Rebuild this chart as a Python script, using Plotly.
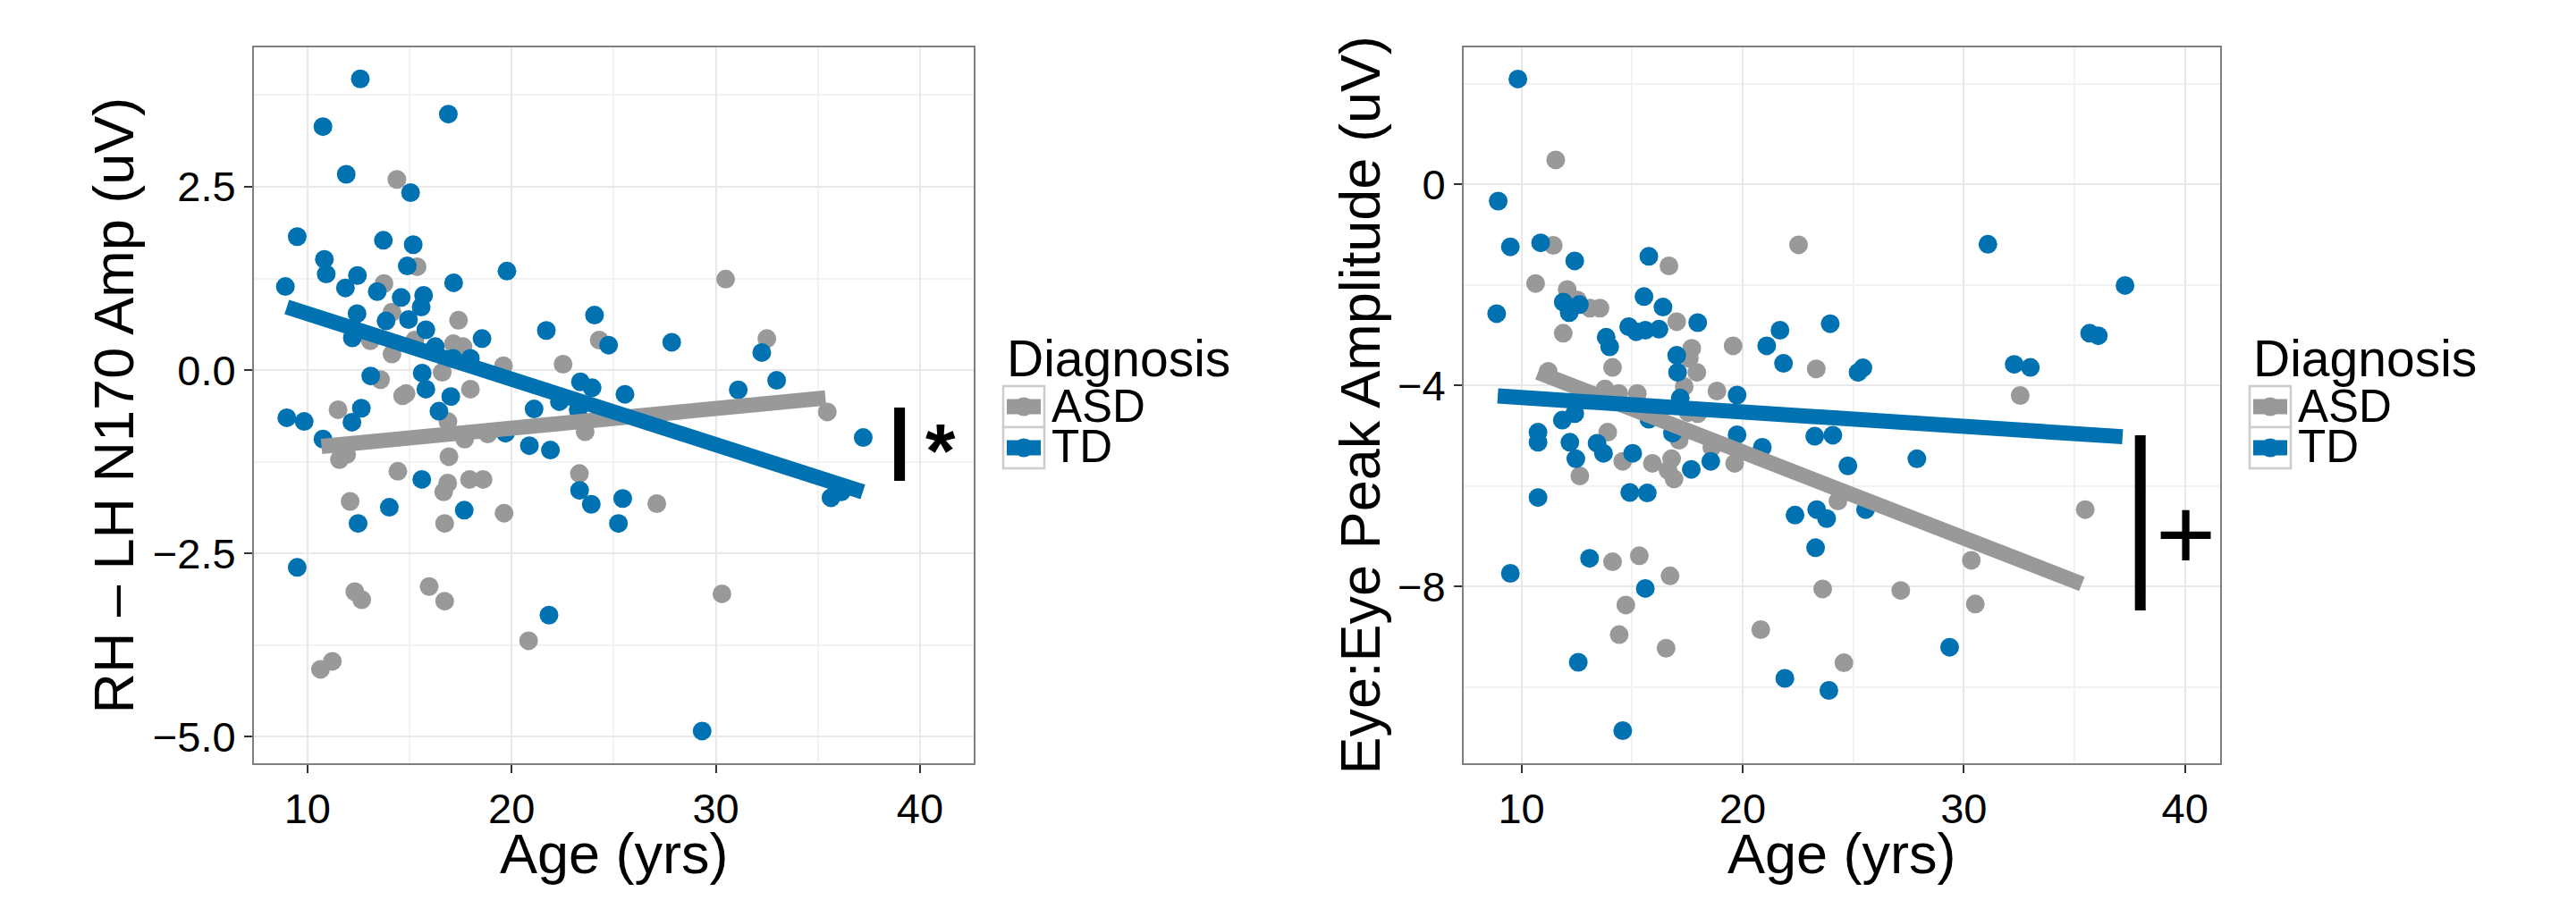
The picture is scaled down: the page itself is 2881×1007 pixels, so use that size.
import plotly.graph_objects as go

W, H = 2881, 1007
BLUE = "#0072B2"
GREY = "#999999"

# ---------------- Panel 1 : RH - LH N170 amplitude ----------------
p1_td_age = [12.59, 10.76, 16.90, 11.90, 15.05, 9.50, 13.72, 15.18, 10.83, 10.92,
             14.89, 12.45, 8.92, 11.86, 13.42, 17.16, 19.77, 14.59, 15.69, 15.57,
             12.43, 13.85, 14.95, 15.80, 12.20, 24.06, 18.55, 21.70, 16.26, 17.13,
             17.98, 24.75, 27.84, 32.25, 32.98, 31.10, 13.10, 15.62, 15.80, 17.02,
             16.44, 23.37, 23.94, 25.55, 22.34, 23.26, 21.10, 12.64, 8.99, 9.84,
             12.18, 10.76, 19.70, 20.87, 21.90, 37.22, 15.60, 23.33, 23.90, 25.44,
             35.64, 36.15, 14.01, 17.68, 12.48, 25.23, 9.50, 21.83, 29.33]
p1_td_val = [3.97, 3.32, 3.49, 2.67, 2.42, 1.82, 1.77, 1.71, 1.51, 1.31,
             1.42, 1.29, 1.14, 1.12, 1.07, 1.19, 1.35, 0.99, 1.02, 0.86,
             0.77, 0.67, 0.69, 0.55, 0.44, 0.75, 0.43, 0.54, 0.32, 0.16,
             0.16, 0.34, 0.38, 0.24, -0.14, -0.27, -0.08, -0.04, -0.26, -0.36,
             -0.56, -0.16, -0.24, -0.33, -0.43, -0.54, -0.53, -0.52, -0.65, -0.70,
             -0.71, -0.94, -0.86, -1.03, -1.09, -0.92, -1.49, -1.64, -1.83, -1.75,
             -1.74, -1.66, -1.87, -1.91, -2.09, -2.09, -2.69, -3.34, -4.92]
p1_asd_age = [14.38, 15.37, 13.75, 14.14, 17.40, 15.26, 13.08, 17.15, 17.62, 14.14,
              24.29, 32.50, 30.48, 19.60, 22.52, 16.60, 13.58, 17.98, 14.66, 14.83,
              11.50, 16.88, 23.60, 17.70, 18.83, 35.46, 11.92, 11.57, 16.93, 14.43,
              16.87, 16.67, 17.94, 18.60, 23.32, 12.09, 19.63, 27.11, 16.72, 12.32,
              12.66, 15.96, 16.72, 30.30, 20.83, 11.22, 10.64]
p1_asd_val = [2.60, 1.41, 1.18, 0.79, 0.68, 0.41, 0.40, 0.36, 0.32, 0.22,
              0.41, 0.43, 1.24, 0.06, 0.08, -0.03, -0.13, -0.26, -0.35, -0.32,
              -0.54, -0.70, -0.84, -0.94, -0.87, -0.57, -1.15, -1.22, -1.18, -1.38,
              -1.54, -1.66, -1.49, -1.49, -1.41, -1.79, -1.95, -1.82, -2.09, -3.02,
              -3.13, -2.95, -3.15, -3.05, -3.69, -3.97, -4.08]
# fitted lines (endpoints)
p1_td_fit_age = [8.99, 37.20]
p1_td_fit_val = [0.86, -1.66]
p1_asd_fit_age = [10.69, 35.37]
p1_asd_fit_val = [-1.04, -0.38]
# significance marker
p1_sig_x = [39.0, 39.0]
p1_sig_y = [-0.51, -1.51]
p1_sig_label = "*"
p1_sig_label_xy = [41.0, -1.09]

# ---------------- Panel 2 : Eye:Eye peak amplitude ----------------
p2_td_age = [9.84, 8.95, 9.50, 10.87, 12.41, 8.88, 15.76, 11.89, 12.16, 12.62,
             15.54, 16.40, 13.83, 13.99, 14.85, 15.19, 15.60, 16.22, 17.97, 17.02,
             17.06, 17.18, 21.69, 21.09, 21.85, 23.96, 25.44, 25.22, 31.09, 32.28,
             33.01, 35.69, 36.08, 37.29, 19.75, 11.85, 12.41, 10.75, 10.75, 12.19,
             13.42, 13.71, 12.46, 15.03, 15.76, 16.83, 17.68, 18.56, 19.75, 20.89,
             23.26, 24.08, 24.76, 27.88, 10.75, 14.90, 15.69, 22.37, 23.35, 23.80,
             25.56, 23.30, 9.50, 13.08, 15.60, 12.57, 21.91, 23.90, 29.36, 14.58]
p2_td_val = [2.10, -0.33, -1.24, -1.16, -1.52, -2.57, -1.43, -2.34, -2.55, -2.39,
             -2.23, -2.44, -3.04, -3.23, -2.83, -2.93, -2.90, -2.88, -2.75, -3.40,
             -3.74, -4.25, -2.90, -3.21, -3.56, -2.77, -3.65, -3.74, -1.19, -3.58,
             -3.64, -2.96, -3.01, -2.01, -4.19, -4.69, -4.56, -4.93, -5.13, -5.13,
             -5.15, -5.35, -5.46, -5.35, -4.67, -4.95, -5.67, -5.51, -4.98, -5.23,
             -5.01, -4.99, -5.60, -5.46, -6.23, -6.13, -6.14, -6.58, -6.47, -6.65,
             -6.47, -7.23, -7.74, -7.44, -8.04, -9.51, -9.83, -10.07, -9.21, -10.87]
p2_asd_age = [11.55, 11.44, 10.64, 12.07, 12.53, 13.10, 13.55, 11.89, 16.67, 22.53,
              17.02, 17.70, 17.59, 19.57, 14.12, 17.93, 23.33, 17.36, 18.84, 11.21,
              13.78, 14.40, 15.24, 17.54, 17.97, 13.90, 17.13, 18.61, 19.64, 14.58,
              15.92, 16.79, 16.63, 16.90, 12.64, 32.55, 24.31, 35.49, 30.34, 14.12,
              15.33, 16.72, 14.72, 23.62, 27.15, 30.52, 14.42, 20.82, 16.54, 24.58]
p2_asd_val = [0.49, -1.21, -1.97, -2.09, -2.30, -2.46, -2.46, -2.96, -1.62, -1.20,
              -2.73, -3.26, -3.46, -3.21, -3.64, -3.74, -3.67, -4.02, -4.11, -3.72,
              -4.07, -4.16, -4.16, -4.54, -4.56, -4.93, -5.09, -5.23, -5.55, -5.51,
              -5.55, -5.46, -5.69, -5.86, -5.80, -4.20, -6.30, -6.47, -7.48, -7.51,
              -7.39, -7.79, -8.37, -8.05, -8.08, -8.35, -8.96, -8.86, -9.23, -9.52]
p2_td_fit_age = [8.93, 37.18]
p2_td_fit_val = [-4.21, -5.02]
p2_asd_fit_age = [10.75, 35.34]
p2_asd_fit_val = [-3.74, -7.95]
p2_sig_x = [37.98, 37.98]
p2_sig_y = [-4.99, -8.48]
p2_sig_label = "+"
p2_sig_label_xy = [40.05, -6.95]

# legend content
legend_title = "Diagnosis"
groups = ["ASD", "TD"]
group_colors = [GREY, BLUE]

FONT = "Liberation Sans, Arial, Helvetica, sans-serif"
MS = 21
LW = 17

fig = go.Figure()


def add_panel(xa, ya, asd_x, asd_y, td_x, td_y, afx, afy, tfx, tfy, sx, sy):
    fig.add_trace(go.Scatter(x=asd_x, y=asd_y, mode="markers", xaxis=xa, yaxis=ya,
                             marker=dict(color=GREY, size=MS, line=dict(width=0)),
                             showlegend=False, name="ASD"))
    fig.add_trace(go.Scatter(x=td_x, y=td_y, mode="markers", xaxis=xa, yaxis=ya,
                             marker=dict(color=BLUE, size=MS, line=dict(width=0)),
                             showlegend=False, name="TD"))
    fig.add_trace(go.Scatter(x=afx, y=afy, mode="lines", xaxis=xa, yaxis=ya,
                             line=dict(color=GREY, width=LW), name="ASD fit",
                             showlegend=False))
    fig.add_trace(go.Scatter(x=tfx, y=tfy, mode="lines", xaxis=xa, yaxis=ya,
                             line=dict(color=BLUE, width=LW), name="TD fit",
                             showlegend=False))
    fig.add_trace(go.Scatter(x=sx, y=sy, mode="lines", xaxis=xa, yaxis=ya,
                             line=dict(color="black", width=12), showlegend=False,
                             hoverinfo="skip", cliponaxis=False))


add_panel("x", "y", p1_asd_age, p1_asd_val, p1_td_age, p1_td_val,
          p1_asd_fit_age, p1_asd_fit_val, p1_td_fit_age, p1_td_fit_val,
          p1_sig_x, p1_sig_y)
add_panel("x2", "y2", p2_asd_age, p2_asd_val, p2_td_age, p2_td_val,
          p2_asd_fit_age, p2_asd_fit_val, p2_td_fit_age, p2_td_fit_val,
          p2_sig_x, p2_sig_y)

ydom = [1 - 854 / H, 1 - 53 / H]
x1dom = [284 / W, 1089 / W]
x2dom = [1637 / W, 2483 / W]

axis_common = dict(
    showline=True, mirror=True, linecolor="#7F7F7F", linewidth=2,
    ticks="outside", ticklen=9, tickwidth=2, tickcolor="#333333",
    tickfont=dict(family=FONT, size=47, color="black"),
    showgrid=True, gridcolor="#E8E8E8", gridwidth=1.5, zeroline=False,
    automargin=False,
)
minor_common = dict(showgrid=True, gridcolor="#F2F2F2", gridwidth=1.5)

fig.update_layout(
    width=W, height=H, margin=dict(l=0, r=0, t=0, b=0), autosize=False,
    paper_bgcolor="white", plot_bgcolor="white", showlegend=False,
    font=dict(family=FONT, color="black"),
    xaxis=dict(domain=x1dom, anchor="y", range=[7.38, 42.63], tickvals=[10, 20, 30, 40],
               minor=dict(dtick=5, tick0=0, **minor_common), **axis_common),
    yaxis=dict(domain=ydom, anchor="x", range=[-5.36, 4.40], tickvals=[-5, -2.5, 0, 2.5],
               tickformat=".1f", minor=dict(dtick=1.25, tick0=0, **minor_common), **axis_common),
    xaxis2=dict(domain=x2dom, anchor="y2", range=[7.39, 41.59], tickvals=[10, 20, 30, 40],
                minor=dict(dtick=5, tick0=0, **minor_common), **axis_common),
    yaxis2=dict(domain=ydom, anchor="x2", range=[-11.52, 2.73], tickvals=[-8, -4, 0],
                minor=dict(dtick=2, tick0=0, **minor_common), **axis_common),
)

ann = []
shapes = []
# axis titles
for dom in (x1dom, x2dom):
    ann.append(dict(text="Age (yrs)", xref="paper", yref="paper",
                    x=(dom[0] + dom[1]) / 2, y=1 - 955 / H, xanchor="center", yanchor="middle",
                    showarrow=False, font=dict(family=FONT, size=63)))
ann.append(dict(text="RH \u2013 LH N170 Amp (uV)", xref="paper", yref="paper",
                x=126 / W, y=(ydom[0] + ydom[1]) / 2, xanchor="center", yanchor="middle",
                textangle=-90, showarrow=False, font=dict(family=FONT, size=63)))
ann.append(dict(text="Eye:Eye Peak Amplitude (uV)", xref="paper", yref="paper",
                x=1520 / W, y=(ydom[0] + ydom[1]) / 2, xanchor="center", yanchor="middle",
                textangle=-90, showarrow=False, font=dict(family=FONT, size=63)))
# significance labels
ann.append(dict(text=p1_sig_label, xref="x", yref="y", x=p1_sig_label_xy[0], y=p1_sig_label_xy[1],
                xanchor="center", yanchor="middle", showarrow=False,
                font=dict(family=FONT, size=86, color="black", weight="bold")))
ann.append(dict(text=p2_sig_label, xref="x2", yref="y2", x=p2_sig_label_xy[0], y=p2_sig_label_xy[1],
                xanchor="center", yanchor="middle", showarrow=False,
                font=dict(family=FONT, size=115, color="black")))

# legends (one per panel, ggplot style keys)
KEY = 46
for left in (1122, 2516):
    ann.append(dict(text=legend_title, xref="paper", yref="paper", x=(left + 2) / W, y=1 - 401 / H,
                    xanchor="left", yanchor="middle", showarrow=False,
                    font=dict(family=FONT, size=57)))
    for i, (g, c) in enumerate(zip(groups, group_colors)):
        top = 432 + i * KEY
        cy = top + KEY / 2
        shapes.append(dict(type="rect", xref="paper", yref="paper",
                           x0=left / W, x1=(left + KEY) / W,
                           y0=1 - (top + KEY) / H, y1=1 - top / H,
                           line=dict(color="#CCCCCC", width=2.5), fillcolor="white"))
        shapes.append(dict(type="line", xref="paper", yref="paper",
                           x0=(left + 4) / W, x1=(left + KEY - 4) / W,
                           y0=1 - cy / H, y1=1 - cy / H,
                           line=dict(color=c, width=LW)))
        shapes.append(dict(type="circle", xref="paper", yref="paper",
                           x0=(left + KEY / 2 - 10.5) / W, x1=(left + KEY / 2 + 10.5) / W,
                           y0=1 - (cy + 10.5) / H, y1=1 - (cy - 10.5) / H,
                           line=dict(width=0), fillcolor=c))
        ann.append(dict(text=g, xref="paper", yref="paper", x=(left + KEY + 6) / W,
                        y=1 - (cy - 1) / H, xanchor="left", yanchor="middle", showarrow=False,
                        font=dict(family=FONT, size=51)))

fig.update_layout(annotations=ann, shapes=shapes)

fig.write_html("out.html")
